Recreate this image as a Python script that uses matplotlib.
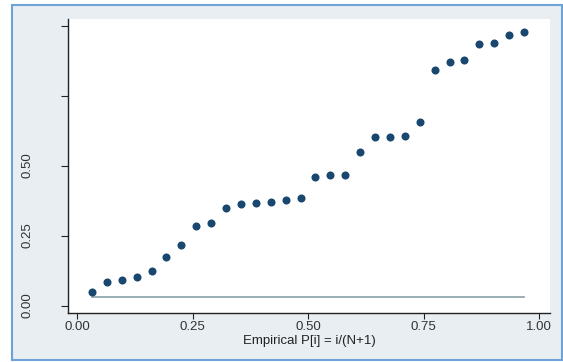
import matplotlib
matplotlib.use("Agg")
import matplotlib.pyplot as plt
from matplotlib.patches import Rectangle
import numpy as np

# Data: empirical probability i/(N+1), N = 30
n_points = 30
empirical_p = [i / (n_points + 1) for i in range(1, n_points + 1)]
observed = [0.049, 0.083, 0.090, 0.102, 0.123, 0.173, 0.215, 0.285, 0.296, 0.350,
            0.364, 0.367, 0.370, 0.377, 0.385, 0.458, 0.465, 0.468, 0.550, 0.602,
            0.604, 0.607, 0.656, 0.843, 0.869, 0.876, 0.933, 0.940, 0.966, 0.979]
ref_line_y = [0.029, 0.029]
ref_line_x = [empirical_p[0], empirical_p[-1]]

x_ticks = [0.0, 0.25, 0.5, 0.75, 1.0]
x_ticklabels = ["0.00", "0.25", "0.50", "0.75", "1.00"]
y_ticks = [0.0, 0.25, 0.5, 0.75, 1.0]
y_ticklabels = ["0.00", "0.25", "0.50", "", ""]
x_label = "Empirical P[i] = i/(N+1)"

plt.rcParams['font.family'] = ['Liberation Sans', 'DejaVu Sans']

W, H = 563, 362
fig = plt.figure(figsize=(W / 100, H / 100), dpi=100, facecolor='white')

# outer Stata-like background with blue border
bg = Rectangle((12 / W, 1 - 360 / H), 550 / W, 355 / H, transform=fig.transFigure,
               facecolor='#e8eef2', edgecolor='#6fa3d8', linewidth=1.5, zorder=-10)
fig.patches.append(bg)

ax = fig.add_axes([68 / W, 1 - 313 / H, (550 - 68) / W, (313 - 19) / H])
ax.set_zorder(5)
ax.set_facecolor('white')

ax.plot(ref_line_x, ref_line_y, color='#87a0a6', linewidth=1.2, zorder=2)
ax.plot(empirical_p, observed, linestyle='none', marker='o', markersize=5.8,
        color='#1a476f', markeredgewidth=0, zorder=3)

ax.set_xlim(-0.0195, 1.0238)
ax.set_ylim(-0.0268, 1.024)

ax.set_xticks(x_ticks)
ax.set_xticklabels(x_ticklabels)
ax.set_yticks(y_ticks)
ax.set_yticklabels(y_ticklabels, rotation=90, va='center')

for s in ['top', 'right']:
    ax.spines[s].set_visible(False)
for s in ['left', 'bottom']:
    ax.spines[s].set_color('#222222')
    ax.spines[s].set_linewidth(1.0)

ax.tick_params(axis='x', length=4, width=0.8, color='#222222', pad=2,
               labelsize=9.5, labelcolor='#333333')
ax.tick_params(axis='y', length=5, width=0.8, color='#222222', pad=20,
               labelsize=9.5, labelcolor='#333333')

ax.set_xlabel(x_label, fontsize=9.5, color='#222222', labelpad=1)

fig.savefig('out.png', dpi=100, facecolor='white')
